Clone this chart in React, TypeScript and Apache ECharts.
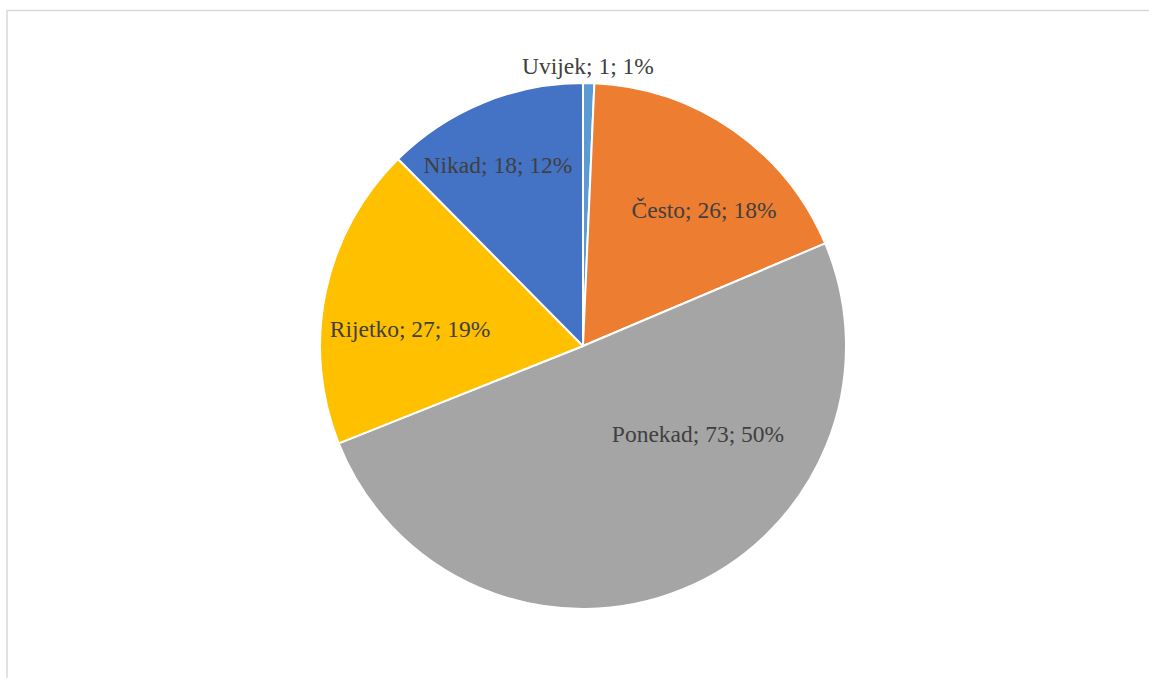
import React, { useEffect, useRef } from "react";
import * as echarts from "echarts";

const categories = ["Uvijek", "Često", "Ponekad", "Rijetko", "Nikad"];
const values = [1, 26, 73, 27, 18];
const percents = ["1%", "18%", "50%", "19%", "12%"];
const colors = ["#5B9BD5", "#ED7D31", "#A5A5A5", "#FFC000", "#4472C4"];
// label anchor positions (px) as placed in the reference
const labelPos: [number, number][] = [
  [588, 66],
  [704, 210],
  [698, 434],
  [410, 329],
  [498, 165],
];

export default function App() {
  const ref = useRef<HTMLDivElement>(null);
  useEffect(() => {
    if (!ref.current) return;
    const chart = echarts.init(ref.current, undefined, { renderer: "svg" });
    chart.setOption({
      animation: false,
      backgroundColor: "#ffffff",
      graphic: [
        { type: "line", shape: { x1: 7, y1: 10.5, x2: 1149, y2: 10.5 }, style: { stroke: "#d9d9d9", lineWidth: 1.5 } },
        { type: "line", shape: { x1: 7, y1: 10, x2: 7, y2: 678 }, style: { stroke: "#d9d9d9", lineWidth: 1.5 } },
      ],
      series: [
        {
          type: "pie",
          center: [583, 346],
          radius: [0, 263],
          startAngle: 90,
          clockwise: true,
          data: categories.map((c, i) => ({
            name: c,
            value: values[i],
            itemStyle: { color: colors[i] },
          })),
          itemStyle: { borderColor: "#ffffff", borderWidth: 2 },
          label: {
            show: true,
            position: "inside",
            formatter: (p: any) => `${p.name}; ${p.value}; ${percents[p.dataIndex]}`,
            fontFamily: "Liberation Serif, Times New Roman, serif",
            fontSize: 23.5,
            color: "#404040",
          },
          labelLine: { show: false },
          labelLayout: (p: any) => ({
            x: labelPos[p.dataIndex][0],
            y: labelPos[p.dataIndex][1],
            align: "center",
            verticalAlign: "middle",
          }),
          emphasis: { disabled: true },
        },
      ],
    });
    return () => chart.dispose();
  }, []);
  return (
    <div
      ref={ref}
      style={{ position: "fixed", left: 0, top: 0, width: 1149, height: 678 }}
    />
  );
}
